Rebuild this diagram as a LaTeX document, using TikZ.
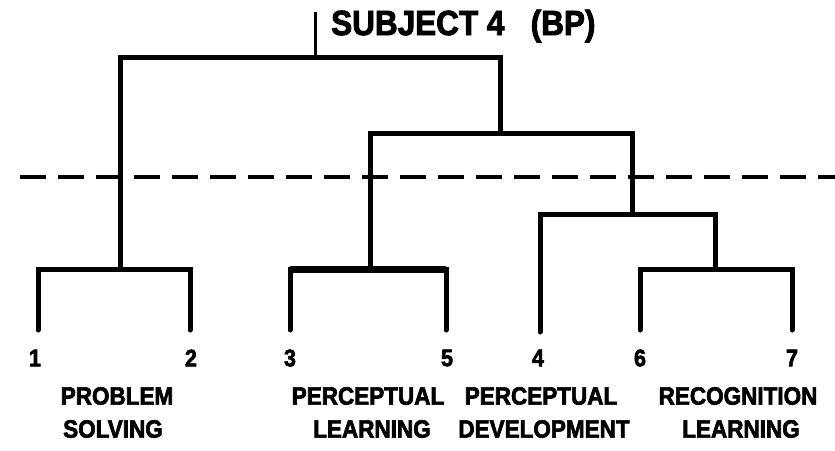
\documentclass[tikz,border=0pt]{standalone}
\usepackage{fontspec}
\setmainfont{Liberation Sans}[FakeStretch=0.9,BoldFeatures={FakeStretch=0.9,FakeBold=2.5}]
\begin{document}
\begin{tikzpicture}[x=1pt,y=-1pt,
  tree/.style={line width=5pt,line cap=round,line join=miter},
  leafnum/.style={font=\fontsize{24}{24}\selectfont\bfseries,inner sep=0pt},
  lab/.style={font=\fontsize{25}{25}\selectfont\bfseries,inner sep=0pt},
  cut/.style={line width=4pt,dash pattern=on 26pt off 12pt}]
\useasboundingbox (0,0) rectangle (835,450);
% leaf tips
\coordinate (t1) at (38,330);
\coordinate (t2) at (190,330);
\coordinate (t3) at (290,330);
\coordinate (t5) at (446,330);
\coordinate (t4) at (540,332);
\coordinate (t6) at (640,330);
\coordinate (t7) at (792,330);
% merge points
\coordinate (m12) at (120,269);
\coordinate (m35) at (370,269);
\coordinate (m67) at (715,269);
\coordinate (m467) at (632,214);
\coordinate (m34567) at (500,133);
\coordinate (root) at (315,57);
\coordinate (top) at (315,12);
% tree
\draw[tree] (t1) |- (m12) -| (t2);
\draw[tree] (t3) |- (m35) -| (t5);
\draw[line width=7pt] (t3 |- m35) -- (t5 |- m35);
\draw[tree] (t6) |- (m67) -| (t7);
\draw[tree] (t4) |- (m467) -| (m67);
\draw[tree] (m35) |- (m34567) -| (m467);
\draw[tree] (m12) |- (root) -| (m34567);
\draw[line width=3pt] (root) -- (top);
% dashed cut line
\coordinate (d1) at (20,177);
\coordinate (d2) at (835,177);
\draw[cut] (d1) -- (d2);
% title
\node[anchor=west,inner sep=0pt,font=\fontsize{35}{35}\selectfont\bfseries] (title) at (331,26) {SUBJECT 4\hspace{0.75em}(BP)};
% leaf numbers
\node[leafnum] (n1) at (35,358) {1};
\node[leafnum] (n2) at (191,358) {2};
\node[leafnum] (n3) at (290,358) {3};
\node[leafnum] (n5) at (447,358) {5};
\node[leafnum] (n4) at (538,358) {4};
\node[leafnum] (n6) at (640,358) {6};
\node[leafnum] (n7) at (792,358) {7};
% labels
\node[lab] (a1) at (117,396) {PROBLEM};
\node[lab] (a2) at (113,429) {SOLVING};
\node[lab] (b1) at (368,396) {PERCEPTUAL};
\node[lab] (b2) at (372,429) {LEARNING};
\node[lab] (c1) at (541,396) {PERCEPTUAL};
\node[lab] (c2) at (544,429) {DEVELOPMENT};
\node[lab] (e1) at (738,396) {RECOGNITION};
\node[lab] (e2) at (741,429) {LEARNING};
\end{tikzpicture}
\end{document}
